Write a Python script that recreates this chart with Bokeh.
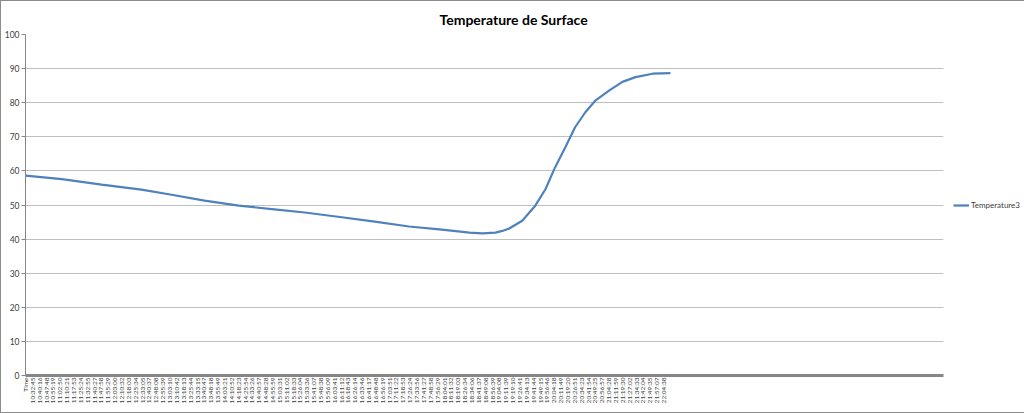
import math
from bokeh.plotting import figure
from bokeh.models import Range1d, FixedTicker, Legend, LegendItem
from bokeh.embed import file_html
from bokeh.resources import INLINE

# ---- data ----
tick_labels = [
    "Time", "10:32:45", "10:40:16", "10:47:48", "10:55:19", "11:02:50", "11:10:21", "11:17:53",
    "11:25:24", "11:32:55", "11:40:27", "11:47:58", "11:55:29", "12:03:00", "12:10:32", "12:18:03",
    "12:25:34", "12:33:05", "12:40:37", "12:48:08", "12:55:39", "13:03:10", "13:10:42", "13:18:13",
    "13:25:44", "13:33:15", "13:40:47", "13:48:18", "13:55:49", "14:03:21", "14:10:52", "14:18:23",
    "14:25:54", "14:33:26", "14:40:57", "14:48:28", "14:55:59", "15:03:31", "15:11:02", "15:18:33",
    "15:26:04", "15:33:36", "15:41:07", "15:48:38", "15:56:09", "16:03:41", "16:11:12", "16:18:43",
    "16:26:14", "16:33:46", "16:41:17", "16:48:48", "16:56:19", "17:03:51", "17:11:22", "17:18:53",
    "17:26:24", "17:33:56", "17:41:27", "17:48:58", "17:56:29", "18:04:01", "18:11:32", "18:19:03",
    "18:26:34", "18:34:06", "18:41:37", "18:49:08", "18:56:39", "19:04:08", "19:11:39", "19:19:10",
    "19:26:41", "19:34:13", "19:41:44", "19:49:15", "19:56:46", "20:04:18", "20:11:49", "20:19:20",
    "20:26:51", "20:34:23", "20:41:54", "20:49:25", "20:56:57", "21:04:28", "21:11:59", "21:19:30",
    "21:27:02", "21:34:33", "21:42:04", "21:49:35", "21:57:07", "22:04:38",
]

# position along the category axis, in label steps (0 = "Time")
sample_pos = [0, 5.3, 11.1, 16.9, 21.3, 26.1, 31.1, 35.9, 40.7, 46.1, 50.9, 55.9, 60.7, 64.7,
              66.6, 68.5, 69.5, 70.5, 72.4, 74.3, 75.8, 77.2, 78.7, 80.1, 81.6, 83.1, 85.1,
              87.0, 88.9, 91.4, 94.0]
temperature3 = [58.6, 57.6, 56.0, 54.5, 53.0, 51.3, 49.8, 48.8, 47.8, 46.4, 45.1, 43.7, 42.8, 41.9,
                41.7, 41.9, 42.4, 43.1, 45.4, 49.8, 54.7, 61.1, 67.0, 72.8, 77.2, 80.7, 83.6,
                86.1, 87.5, 88.5, 88.7]

y_ticks = [0, 10, 20, 30, 40, 50, 60, 70, 80, 90, 100]

# ---- figure ----
p = figure(frame_width=918, frame_height=341, output_backend="svg", toolbar_location=None,
           x_range=Range1d(0, 133.8), y_range=Range1d(0, 100),
           min_border_left=23, min_border_right=81, min_border_top=33, min_border_bottom=37,
           title="Temperature de Surface")
p.styles = {"border": "1px solid #8c8c8c"}
p.outline_line_color = None
p.background_fill_color = "white"
p.border_fill_color = "white"

p.title.align = "left"
p.title.vertical_align = "middle"
p.title.offset = 414
p.title.standoff = 12
p.title.text_font = "Lato"
p.title.text_font_size = "14px"
p.title.text_font_style = "bold"
p.title.text_color = "#000000"

r = p.line(sample_pos, temperature3, line_color="#4f81bd", line_width=2.2)

# y axis
p.yaxis.ticker = FixedTicker(ticks=y_ticks)
p.yaxis.axis_line_color = "#868686"
p.yaxis.major_tick_line_color = "#868686"
p.yaxis.major_tick_out = 4
p.yaxis.major_tick_in = 0
p.yaxis.minor_tick_line_color = None
p.yaxis.major_label_standoff = 2
p.yaxis.major_label_text_font = "Lato"
p.yaxis.major_label_text_font_size = "8.5px"
p.yaxis.major_label_text_color = "#404040"

p.ygrid.ticker = FixedTicker(ticks=y_ticks)
p.ygrid.grid_line_color = "#bfbfbf"
p.xgrid.visible = False

# x axis
p.xaxis.ticker = FixedTicker(ticks=list(range(len(tick_labels))))
p.xaxis.major_label_overrides = {i: t for i, t in enumerate(tick_labels)}
p.xaxis.major_label_orientation = math.pi / 2
p.xaxis.axis_line_color = "#868686"
p.xaxis.axis_line_width = 3
p.xaxis.major_tick_line_color = None
p.xaxis.major_tick_out = 0
p.xaxis.major_tick_in = 0
p.xaxis.minor_tick_line_color = None
p.xaxis.major_label_standoff = 2
p.xaxis.major_label_text_font = "Lato"
p.xaxis.major_label_text_font_size = "6.5px"
p.xaxis.major_label_text_color = "#404040"

legend = Legend(items=[LegendItem(label="Temperature3", renderers=[r])],
                location="left", padding=0, margin=10, border_line_color=None,
                background_fill_alpha=0, glyph_width=16, glyph_height=10,
                label_standoff=2, label_text_font="Lato", label_text_font_size="8px",
                label_text_color="#404040")
p.add_layout(legend, "right")

open("out.html", "w").write(file_html(p, INLINE))
